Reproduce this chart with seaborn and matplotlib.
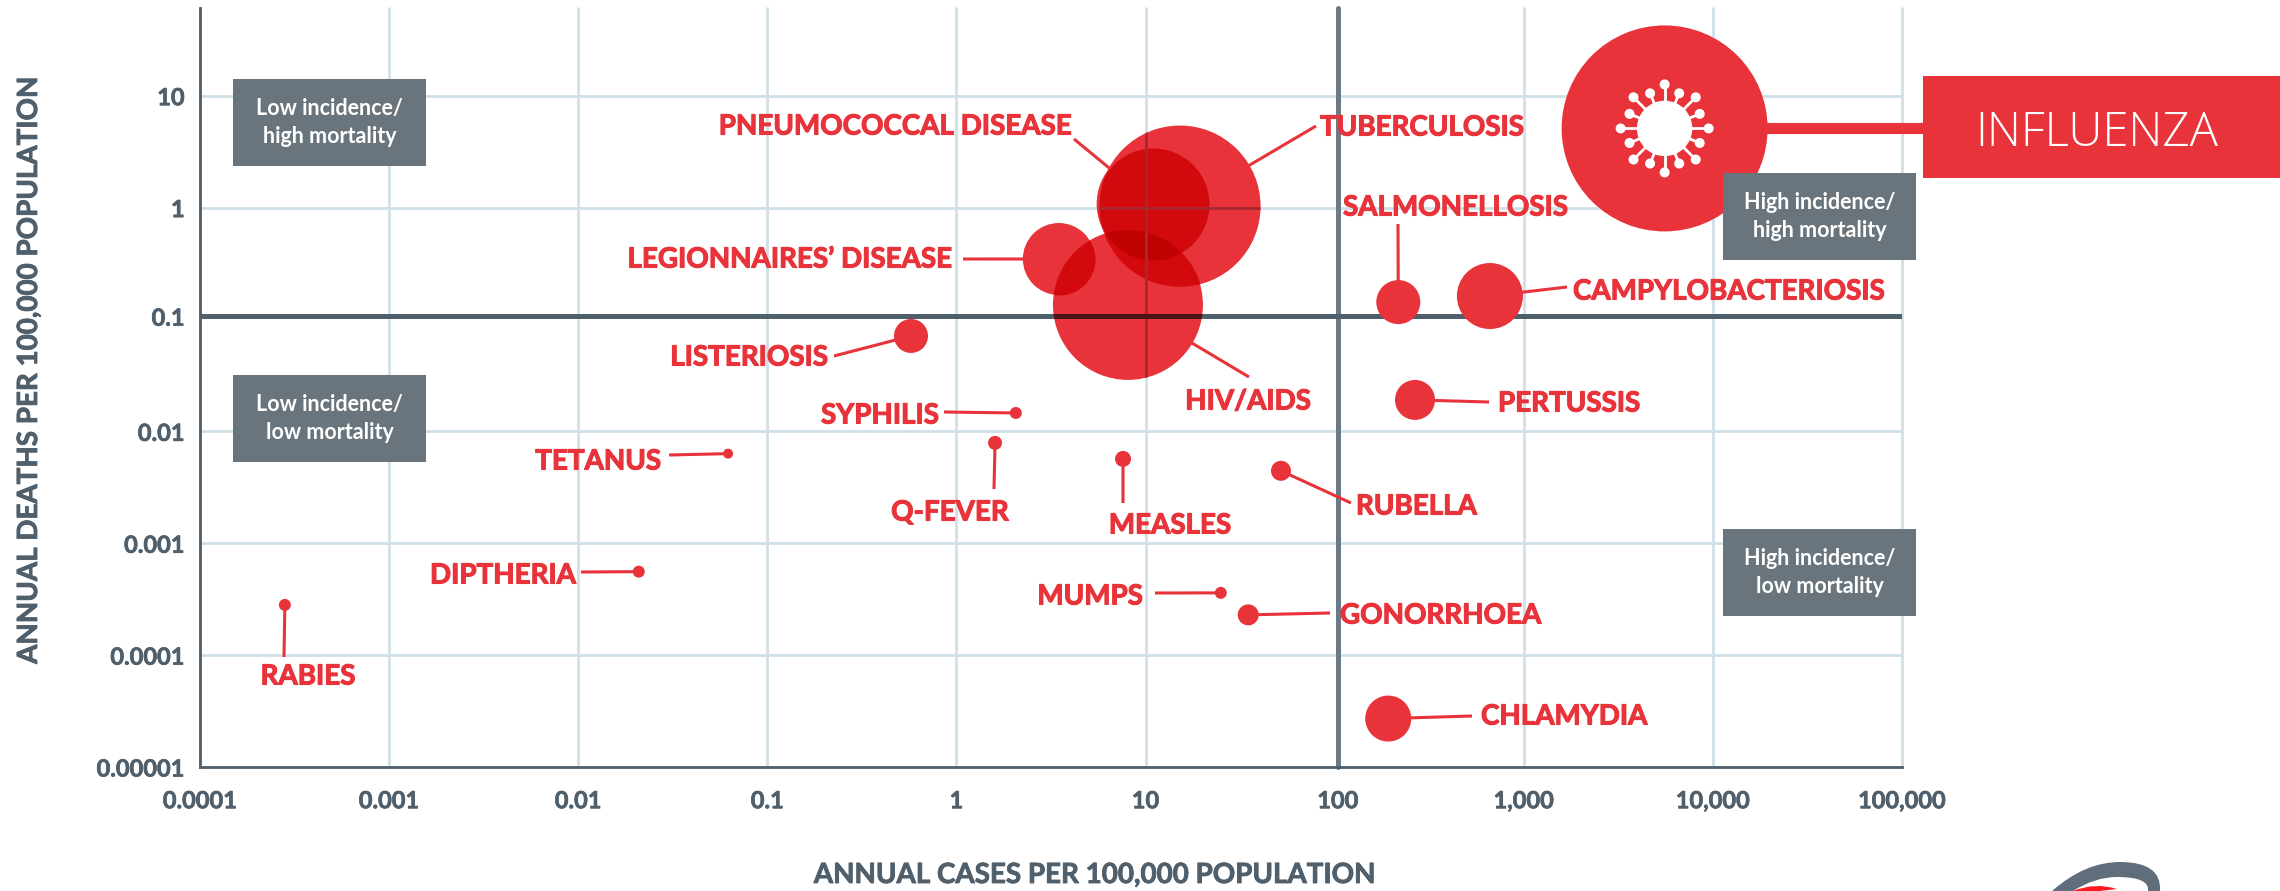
# Annual cases vs annual deaths per 100,000 population, bubble chart
import numpy as np
import pandas as pd
import matplotlib
matplotlib.use('Agg')
import matplotlib.pyplot as plt
import matplotlib.patheffects as pe
import seaborn as sns
from matplotlib.patches import Circle, Rectangle, PathPatch
from matplotlib.path import Path
from matplotlib.transforms import IdentityTransform

# Data
diseases = ['INFLUENZA', 'TUBERCULOSIS', 'PNEUMOCOCCAL DISEASE', 'LEGIONNAIRES’ DISEASE', 'HIV/AIDS',
            'SALMONELLOSIS', 'CAMPYLOBACTERIOSIS', 'PERTUSSIS', 'LISTERIOSIS', 'SYPHILIS',
            'TETANUS', 'Q-FEVER', 'MEASLES', 'RUBELLA', 'DIPTHERIA',
            'MUMPS', 'GONORRHOEA', 'CHLAMYDIA', 'RABIES']
annual_cases = [5556, 15.2, 10.9, 3.48, 8.07,
                217, 662, 266, 0.575, 2.06,
                0.062, 1.6, 7.6, 52, 0.0209,
                25, 34.9, 192, 0.000281]
annual_deaths = [5.1, 1.03, 1.08, 0.347, 0.135,
                 0.143, 0.162, 0.0191, 0.0712, 0.0146,
                 0.00632, 0.00789, 0.00567, 0.00444, 0.000557,
                 0.00036, 0.000229, 0.0000271, 0.000281]
bubble_area = [10609, 6500, 3136, 1296, 5625,
               484, 1089, 400, 289, 36,
               25, 49, 64, 100, 36,
               36, 110, 529, 36]

# the split lines sit a little off the true 100 and 0.1 in the picture
cases_split = 104
deaths_split = 0.107
x_ticks = [0.0001, 0.001, 0.01, 0.1, 1, 10, cases_split, 1000, 10000, 100000]
x_tick_labels = ['0.0001', '0.001', '0.01', '0.1', '1', '10', '100', '1,000', '10,000', '100,000']
y_ticks = [10, 1, deaths_split, 0.01, 0.001, 0.0001, 0.00001]
y_tick_labels = ['10', '1', '0.1', '0.01', '0.001', '0.0001', '0.00001']

quadrant_names = ['Low incidence/\nhigh mortality', 'Low incidence/\nlow mortality',
                  'High incidence/\nhigh mortality', 'High incidence/\nlow mortality']

# Layout, in pixels from the top left of the picture
W, H = 2280, 891
quadrant_boxes = [(233, 79), (233, 375), (1723, 173), (1723, 529)]
# text x, text middle y, alignment, end of the leader line
labels = {
    'TUBERCULOSIS': (1320, 125, 'left', (1316, 126)),
    'PNEUMOCOCCAL DISEASE': (1072, 124, 'right', (1074, 139)),
    'LEGIONNAIRES’ DISEASE': (952, 257, 'right', (963, 259)),
    'HIV/AIDS': (1248, 399, 'center', (1249, 377)),
    'SALMONELLOSIS': (1343, 205, 'left', (1398, 224)),
    'CAMPYLOBACTERIOSIS': (1573, 289, 'left', (1567, 287)),
    'PERTUSSIS': (1498, 401, 'left', (1489, 402)),
    'LISTERIOSIS': (828, 355, 'right', (834, 356)),
    'SYPHILIS': (939, 413, 'right', (944, 412)),
    'TETANUS': (661, 459, 'right', (669, 455)),
    'Q-FEVER': (950, 510, 'center', (994, 489)),
    'MEASLES': (1170, 523, 'center', (1123, 503)),
    'RUBELLA': (1356, 504, 'left', (1351, 503)),
    'DIPTHERIA': (576, 573, 'right', (581, 572)),
    'MUMPS': (1143, 594, 'right', (1155, 593)),
    'GONORRHOEA': (1340, 613, 'left', (1330, 613)),
    'CHLAMYDIA': (1481, 714, 'left', (1472, 716)),
    'RABIES': (308, 674, 'center', (284, 657)),
}

RED = '#e8333a'
RED2 = '#d30a0d'
RED3 = '#c00203'
SLATE = '#4f5f6c'
GRID = '#cfe0e7'
BOX = '#69747c'

sns.set_style('white')
plt.rcParams['font.family'] = ['Lato', 'DejaVu Sans']

df = pd.DataFrame({'disease': diseases, 'cases': annual_cases, 'deaths': annual_deaths, 'area': bubble_area})
max_area = df['area'].max()
scatter_opts = dict(x='cases', y='deaths', size='area', sizes=(0, 2.0736 * max_area),
                    size_norm=(0, max_area), linewidth=0, legend=False)

fig = plt.figure(figsize=(W / 100, H / 100), dpi=100, facecolor='white')
ax = fig.add_axes([200 / W, (H - 767) / H, 1702 / W, 759 / H])
ax.set_xscale('log')
ax.set_yscale('log')
ax.set_xlim(1e-4, 1e5)
ax.set_ylim(1e-5, 60.8)

ident = IdentityTransform()


def px(x, y):
    return x, H - y


def heavier(colour, width):
    # the original font is a bit heavier than Lato Bold
    return [pe.withStroke(linewidth=width, foreground=colour)]


# Bubbles
sns.scatterplot(data=df, ax=ax, color=RED, zorder=3, **scatter_opts)

centres = {}
for i, name in enumerate(diseases):
    cx, cy = ax.transData.transform((annual_cases[i], annual_deaths[i]))
    centres[name] = (cx, cy, np.sqrt(bubble_area[i]))


def bubble_clip(name):
    cx, cy, r = centres[name]
    return Circle((cx, cy), r, transform=ident)


# Overlapping bubbles multiply, so the shared parts are darker
for top, under, colour in [('PNEUMOCOCCAL DISEASE', 'TUBERCULOSIS', RED2),
                           ('HIV/AIDS', 'TUBERCULOSIS', RED2),
                           ('LEGIONNAIRES’ DISEASE', 'HIV/AIDS', RED2),
                           ('PNEUMOCOCCAL DISEASE', 'HIV/AIDS', RED3)]:
    sns.scatterplot(data=df[df['disease'] == top], ax=ax, color=colour, zorder=4, **scatter_opts)
    ax.collections[-1].set_clip_path(bubble_clip(under))

# Axes and grid, after the scatter calls so their labels do not come back
ax.set_xticks(x_ticks)
ax.set_xticklabels(x_tick_labels)
ax.set_yticks(y_ticks)
ax.set_yticklabels(y_tick_labels)
ax.minorticks_off()
ax.set_xlabel('')
ax.set_ylabel('')
ax.set_axisbelow(True)
ax.grid(True, color=GRID, linewidth=2)
for line in ax.get_xgridlines() + ax.get_ygridlines():
    line.set_clip_on(False)
ax.tick_params(axis='x', length=5, width=2, color=GRID, pad=11, labelcolor=SLATE, labelsize=17)
ax.tick_params(axis='y', length=5, width=2, color=GRID, pad=6, labelcolor=SLATE, labelsize=17)
for lab in ax.get_xticklabels() + ax.get_yticklabels():
    lab.set_fontweight('bold')
    lab.set_path_effects(heavier(SLATE, 0.5))
ax.get_xticklines()[0].set_color(SLATE)
ax.get_yticklines()[-2].set_color(SLATE)
sns.despine(ax=ax)
for side in ['left', 'bottom']:
    ax.spines[side].set_color(SLATE)
    ax.spines[side].set_linewidth(2)
    ax.spines[side].set_zorder(1.5)

# Quadrant split lines
ax.axvline(cases_split, color='#6b7a86', linewidth=3.6, zorder=1, clip_on=False)
ax.axhline(deaths_split, color=SLATE, linewidth=3.6, zorder=1)

# Lines showing through the see-through bubbles
for name in ['TUBERCULOSIS', 'HIV/AIDS']:
    ln = ax.axvline(10, color='#a8272e', linewidth=2, zorder=5)
    ln.set_clip_path(bubble_clip(name))
ln = ax.axhline(1, color='#a8272e', linewidth=2, zorder=5)
ln.set_clip_path(bubble_clip('TUBERCULOSIS'))
ln = ax.axhline(deaths_split, color='#481319', linewidth=3.6, zorder=5)
ln.set_clip_path(bubble_clip('HIV/AIDS'))

# Labels and leader lines
for name, (tx, ty, ha, end) in labels.items():
    cx, cy, r = centres[name]
    ex, ey = px(*end)
    d = np.hypot(ex - cx, ey - cy)
    sx, sy = cx + (ex - cx) * (r - 1) / d, cy + (ey - cy) * (r - 1) / d
    ax.plot([sx, ex], [sy, ey], color=RED, linewidth=2.2, transform=ident, zorder=2.5,
            clip_on=False, solid_capstyle='butt')
    bx, by = px(tx, ty + 10.5)
    ax.text(bx, by, name, transform=ident, color=RED, fontsize=20, fontweight='bold',
            ha=ha, va='baseline', zorder=7, path_effects=heavier(RED, 0.8))

# Quadrant boxes
for (bx, by), text in zip(quadrant_boxes, quadrant_names):
    x0, y0 = px(bx, by + 87)
    ax.add_patch(Rectangle((x0, y0), 193, 87, transform=ident, facecolor=BOX, edgecolor='none',
                           zorder=6, clip_on=False))
    ax.text(x0 + 96.5, y0 + 43.5, text, transform=ident, color='white', fontsize=15.5, fontweight='bold',
            ha='center', va='center', linespacing=1.4, zorder=7)

# Influenza call out
flu_x, flu_y, flu_r = centres['INFLUENZA']
ax.plot([flu_x + flu_r - 2, 1925], [flu_y, flu_y], color=RED, linewidth=8, transform=ident, zorder=3,
        clip_on=False, solid_capstyle='butt')
x0, y0 = px(1923, 178)
ax.add_patch(Rectangle((x0, y0), 357, 102, transform=ident, facecolor=RED, edgecolor='none',
                       zorder=6, clip_on=False))
ax.text(2097, H - 128 - 17.5, 'INFLUENZA', transform=ident, color='white', fontsize=34,
        family='Open Sans', fontweight='light', ha='center', va='baseline', zorder=7)

# Virus icon on the influenza bubble
ax.add_patch(Circle((flu_x, flu_y), 27.7, transform=ident, facecolor='white', edgecolor='none', zorder=6))
for k, ang in enumerate(np.arange(16) * np.pi / 8):
    reach = 44 if k % 2 == 0 else 38
    kx, ky = flu_x + reach * np.cos(ang), flu_y + reach * np.sin(ang)
    ax.plot([flu_x, kx], [flu_y, ky], color='white', linewidth=2, transform=ident, zorder=6)
    ax.add_patch(Circle((kx, ky), 5, transform=ident, facecolor='white', edgecolor='none', zorder=6))

# Axis titles
ax.text(1095, H - 875, 'ANNUAL CASES PER 100,000 POPULATION', transform=ident, color=SLATE, fontsize=20,
        fontweight='bold', ha='center', va='center', clip_on=False, path_effects=heavier(SLATE, 0.6))
ax.text(29, H - 370, 'ANNUAL DEATHS PER 100,000 POPULATION', transform=ident, color=SLATE, fontsize=20,
        fontweight='bold', ha='center', va='center', rotation=90, clip_on=False, path_effects=heavier(SLATE, 0.6))

# Logo, cut off by the bottom of the picture
grey = [(2052, 891), (2085, 862), (2120, 862), (2162, 862), (2160, 891), (2148, 891),
        (2150, 877), (2117, 877), (2095, 877), (2073, 891), (2052, 891)]
grey_codes = [Path.MOVETO, Path.CURVE3, Path.CURVE3, Path.CURVE3, Path.CURVE3, Path.LINETO,
              Path.CURVE3, Path.CURVE3, Path.CURVE3, Path.CURVE3, Path.CLOSEPOLY]
red = [(2073, 891), (2095, 882), (2117, 889), (2100, 891), (2073, 891)]
red_codes = [Path.MOVETO, Path.CURVE3, Path.CURVE3, Path.LINETO, Path.CLOSEPOLY]
ax.add_patch(PathPatch(Path([px(*p) for p in grey], grey_codes), transform=ident, facecolor='#5f6e7a',
                       edgecolor='none', clip_on=False))
ax.add_patch(PathPatch(Path([px(*p) for p in red], red_codes), transform=ident, facecolor='#ff1a1f',
                       edgecolor='none', clip_on=False))

fig.savefig('out.png', dpi=100)
